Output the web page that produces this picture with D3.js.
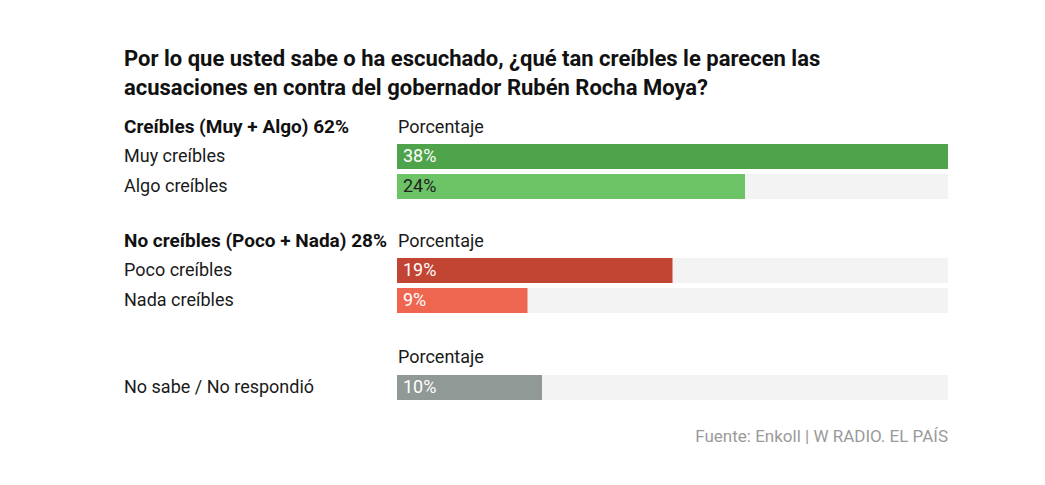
<!DOCTYPE html>
<html>
<head>
<meta charset="utf-8">
<script src="https://cdn.jsdelivr.net/npm/d3@7"></script>
<style>
  body { margin: 0; background: #fff; }
  svg text { font-family: "Roboto", "Liberation Sans", sans-serif; }
  .lbl { font-size: 18px; fill: #1a1a1a; }
</style>
</head>
<body>
<svg id="chart" width="1045" height="485"></svg>
<script>
const titleLines = [
  "Por lo que usted sabe o ha escuchado, ¿qué tan creíbles le parecen las",
  "acusaciones en contra del gobernador Rubén Rocha Moya?"
];
const groupTitles = ["Creíbles (Muy + Algo) 62%", "No creíbles (Poco + Nada) 28%", ""];
const groupHeader = "Porcentaje";
const groupIdx = [0, 0, 1, 1, 2];
const categories = ["Muy creíbles", "Algo creíbles", "Poco creíbles", "Nada creíbles", "No sabe / No respondió"];
const values = [38, 24, 19, 9, 10];
const colors = ["#4fa34a", "#6cc466", "#c24432", "#ee6550", "#909996"];
const textColors = ["#ffffff", "#222222", "#ffffff", "#ffffff", "#ffffff"];
const source = "Fuente: Enkoll | W RADIO. EL PAÍS";

const svg = d3.select("#chart");
const left = 124, barLeft = 397, barRight = 948;
const barH = 25;

// title
svg.append("g").selectAll("text")
  .data(titleLines)
  .enter()
  .append("text")
  .attr("x", left)
  .attr("y", (d, i) => 66 + i * 29)
  .attr("font-size", 22)
  .attr("font-weight", "bold")
  .attr("fill", "#111")
  .text(d => d);

const x = d3.scaleLinear().domain([0, d3.max(values)]).range([barLeft, barRight]);

// row positions: group header row then bars
const groupTop = [127, 241, 357];
const rowY = (i) => {
  const g = groupIdx[i];
  const k = groupIdx.slice(0, i).filter(v => v === g).length;
  const first = g === 2 ? 375 : groupTop[g] + 17;
  return first + k * 30;
};

// group headers
groupTop.forEach((t, g) => {
  if (groupTitles[g]) {
    svg.append("text")
      .attr("x", left).attr("y", t + 6)
      .attr("font-size", 19)
      .attr("font-weight", "bold")
      .attr("fill", "#111")
      .text(groupTitles[g]);
  }
  svg.append("text")
    .attr("class", "lbl")
    .attr("x", barLeft + 1).attr("y", t + 6)
    .text(groupHeader);
});

const rows = svg.append("g").selectAll("g")
  .data(values)
  .enter()
  .append("g");

rows.append("rect")
  .attr("x", barLeft)
  .attr("y", (d, i) => rowY(i))
  .attr("width", barRight - barLeft)
  .attr("height", barH)
  .attr("fill", "#f3f3f3");

rows.append("rect")
  .attr("x", barLeft)
  .attr("y", (d, i) => rowY(i))
  .attr("width", d => x(d) - barLeft)
  .attr("height", barH)
  .attr("fill", (d, i) => colors[i]);

rows.append("text")
  .attr("class", "lbl")
  .attr("x", barLeft + 6)
  .attr("y", (d, i) => rowY(i) + barH / 2 + 5)
  .style("fill", (d, i) => textColors[i])
  .text(d => d + "%");

rows.append("text")
  .attr("class", "lbl")
  .attr("x", left)
  .attr("y", (d, i) => rowY(i) + barH / 2 + 5)
  .text((d, i) => categories[i]);

svg.append("text")
  .attr("class", "lbl")
  .attr("x", barRight).attr("y", 442)
  .attr("text-anchor", "end")
  .style("fill", "#9a9a9a")
  .style("font-size", "17px")
  .text(source);
</script>
</body>
</html>
